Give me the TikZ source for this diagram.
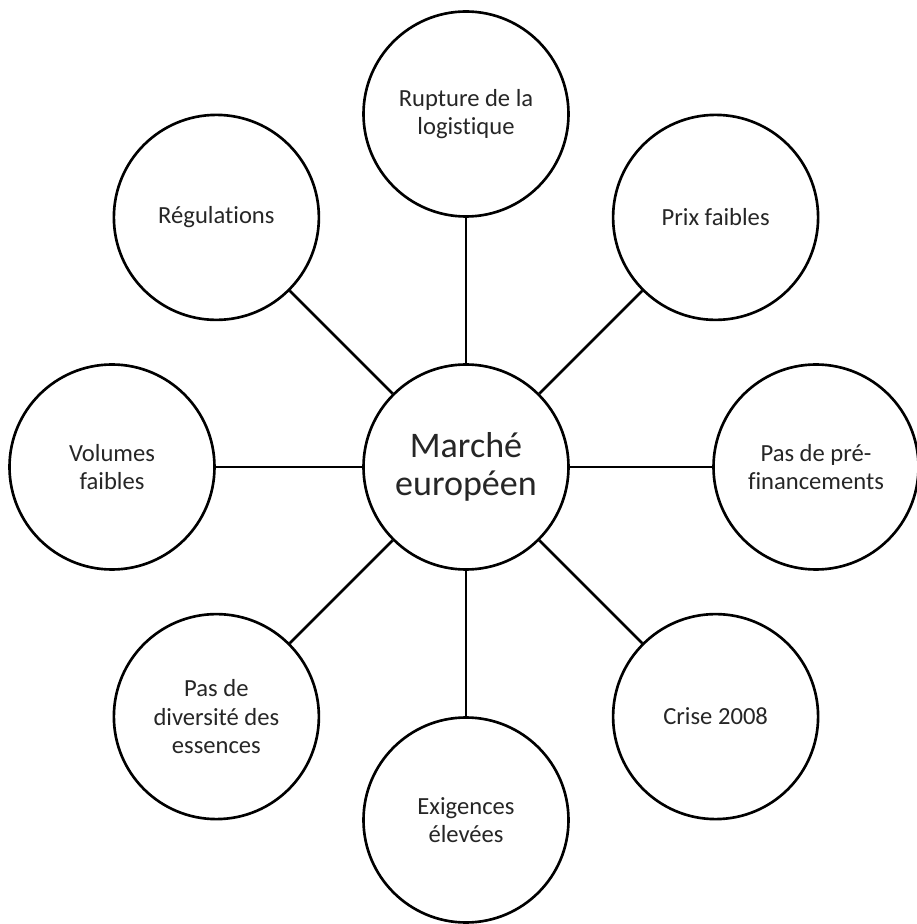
\documentclass[tikz,border=0pt]{standalone}
\usepackage{fontspec}
\setmainfont{Carlito}[Ligatures=NoCommon]
\usepackage{tikz}
\usetikzlibrary{positioning}

\begin{document}
\begin{tikzpicture}[line width=1.5pt,font=\fontsize{14}{16}\selectfont]
  \tikzstyle{cause}=[draw,circle,fill=white,minimum size=4.1cm,inner sep=0pt,align=center,text=black!85]
  \useasboundingbox (-9.32,-9.14) rectangle (9.0,9.34);

  \node[cause,font=\fontsize{20.5}{22}\selectfont] (MARCHE) at (0,0) {Marché\\européen};

  \node[cause] (LOGIST) at (90:7.06) {Rupture de la\\logistique};
  \node[cause] (PRIX) at (45:7.06) {Prix faibles};
  \node[cause] (PREFIN) at (0:7.0) {Pas de pré-\\financements};
  \node[cause] (CRISE) at (-45:7.06) {Crise 2008};
  \node[cause] (EXIG) at (-90:7.06) {Exigences\\élevées};
  \node[cause] (DIVERS) at (-135:7.06) {Pas de\\diversité des\\essences};
  \node[cause] (VOLUMES) at (180:7.08) {Volumes\\faibles};
  \node[cause] (REGUL) at (135:7.06) {Régulations};

  \foreach \n in {LOGIST,PRIX,PREFIN,CRISE,EXIG,DIVERS,VOLUMES,REGUL}
    \draw (MARCHE) -- (\n);
\end{tikzpicture}
\end{document}
